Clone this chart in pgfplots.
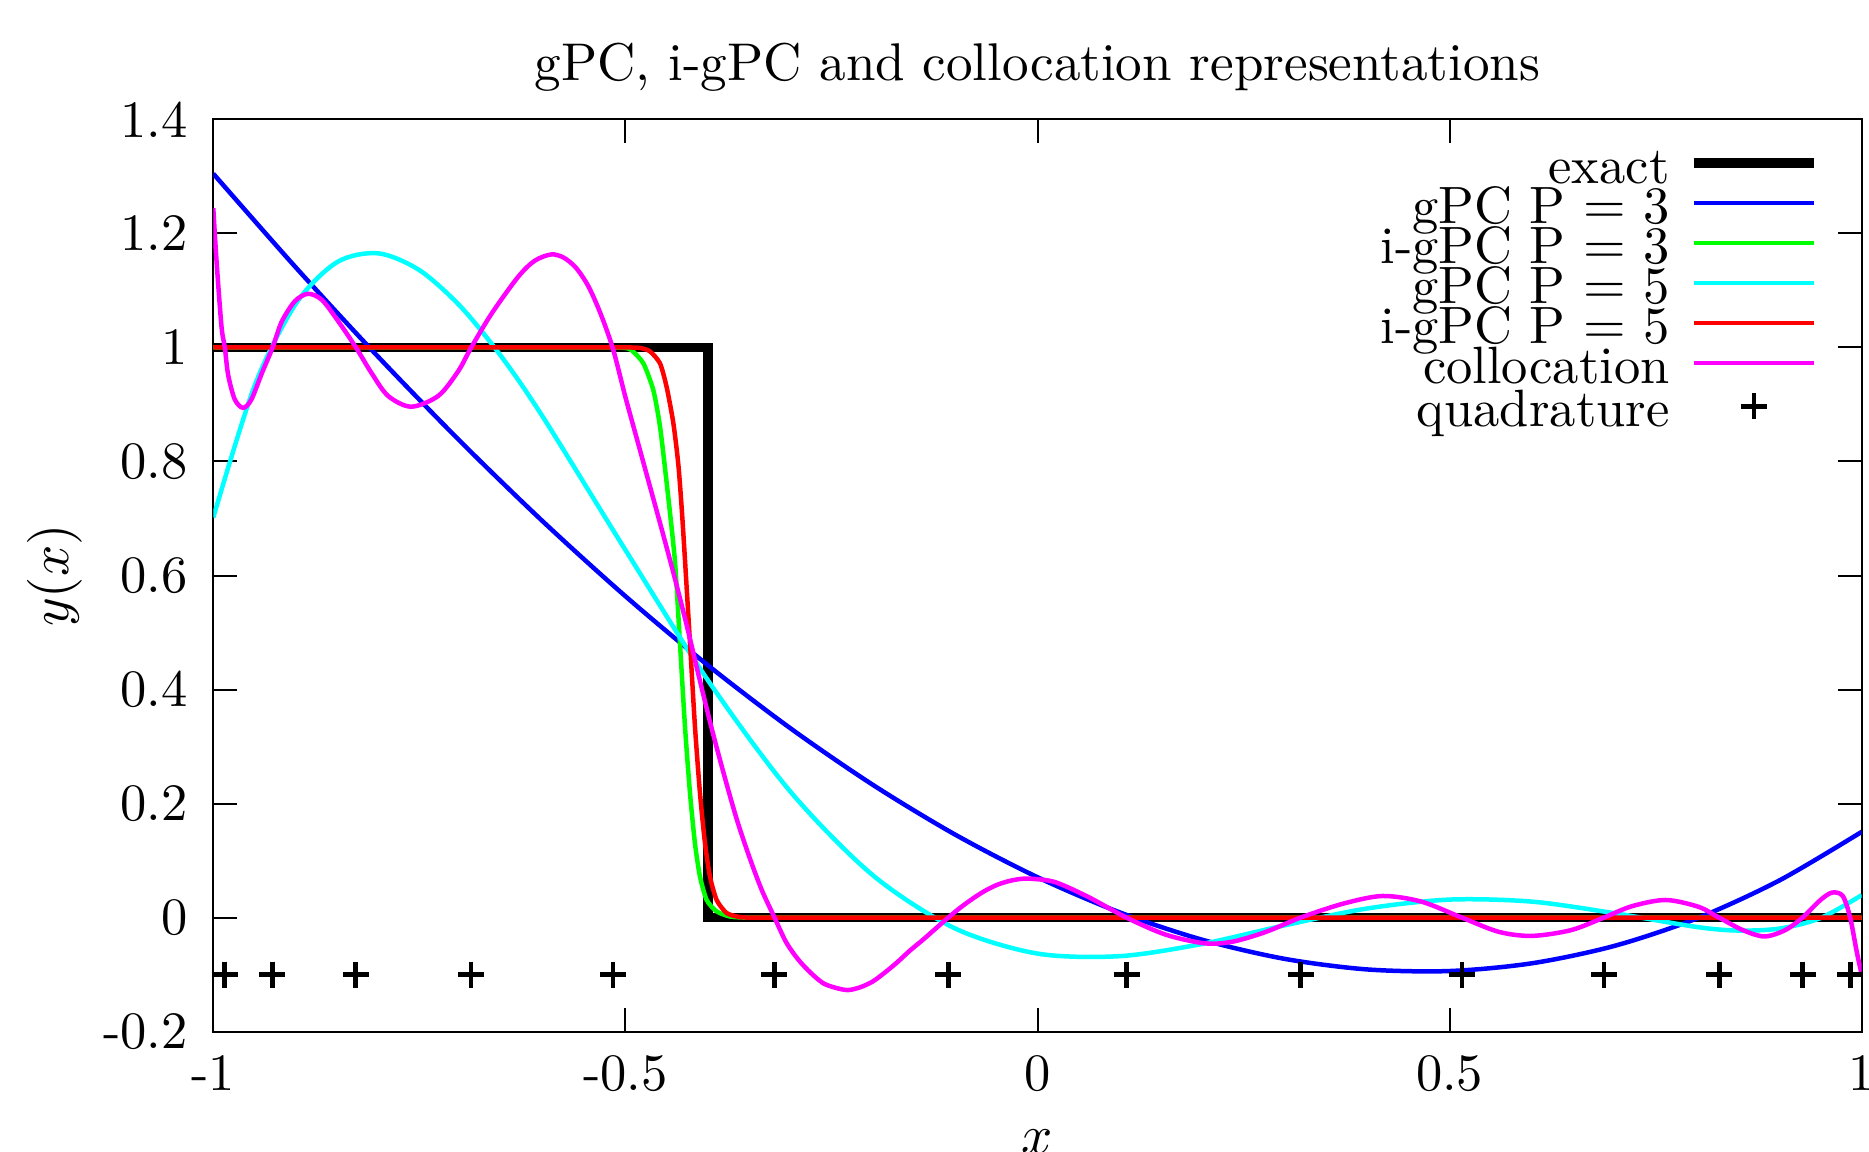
\documentclass[border=0pt]{standalone}
\usepackage{pgfplots}
\pgfplotsset{compat=1.18}
\definecolor{cblue}{rgb}{0,0,1}
\definecolor{cgreen}{rgb}{0,1,0}
\definecolor{ccyan}{rgb}{0,1,1}
\definecolor{cred}{rgb}{1,0,0}
\definecolor{cmag}{rgb}{1,0,1}
\newcommand\fs{\fontsize{10.5}{12}\selectfont}
\begin{document}
\begin{tikzpicture}
\begin{axis}[
  scale only axis, width=329.68pt, height=182.48pt,
  xmin=-1, xmax=1, ymin=-0.2, ymax=1.4,
  xtick={-1,-0.5,0,0.5,1}, xticklabels={-1,-0.5,0,0.5,1},
  ytick={-0.2,0,0.2,0.4,0.6,0.8,1,1.2,1.4},
  yticklabels={-0.2,0,0.2,0.4,0.6,0.8,1,1.2,1.4},
  tick align=inside, major tick length=4.7pt,
  tick style={black, line width=0.4pt},
  axis line style={line width=0.4pt},
  ticklabel style={font=\fs},
  yticklabel style={xshift=-1.6pt},
  xticklabel style={yshift=-1.2pt},
  title={gPC, i-gPC and collocation representations},
  title style={at={(axis description cs:0.5,1.0098)}, anchor=base, yshift=0pt, font=\fontsize{10.62}{12}\selectfont},
  xlabel={$x$}, ylabel={$y(x)$},
  xlabel style={at={(axis description cs:0.5,-0.1332)}, anchor=base, font=\fs},
  ylabel style={at={(axis description cs:-0.0962,0.5)}, anchor=center, font=\fs},
  legend style={at={(axis description cs:1,1)}, anchor=north east, xshift=-8.64pt, yshift=-6.8pt,
    draw=none, fill=none, inner sep=0pt, outer sep=0pt, row sep=0pt, column sep=3.9pt, font=\fs,
    nodes={inner sep=0pt, text height=6pt, text depth=2pt}},
  legend cell align=right, legend plot pos=right,
  legend image code/.code={\draw[mark repeat=2,mark phase=2,#1] plot coordinates {(0pt,2.1pt) (12pt,2.1pt) (24pt,2.1pt)};},
]
\coordinate (SW) at (rel axis cs:0,0);
\addplot[black, line width=1.9pt, line join=miter] coordinates {(-1,1) (-0.4,1) (-0.4,0) (1,0)};
\addlegendentry{exact}
\addplot[cblue, line width=0.9pt, smooth] coordinates {
(-1,1.3046) (-0.9,1.1404) (-0.8,0.9836) (-0.7,0.8348) (-0.6,0.6946) (-0.5,0.5637) (-0.4,0.4427) (-0.3,0.3323) (-0.2,0.2331) (-0.1,0.1457) (0,0.0709) (0.1,0.0091) (0.2,-0.0388) (0.3,-0.0723) (0.4,-0.0908) (0.5,-0.0936) (0.6,-0.0800) (0.7,-0.0495) (0.8,-0.0013) (0.9,0.0652) (1,0.1505)};
\addlegendentry{gPC P $=$ 3}
\addplot[cgreen, line width=0.9pt, smooth, tension=0.4] coordinates {
(-1,1) (-0.7,1) (-0.56,1) (-0.52,1) (-0.50,0.999) (-0.4924,0.995) (-0.4782,0.972) (-0.4661,0.925) (-0.458,0.861) (-0.4499,0.762) (-0.440,0.627) (-0.4338,0.481) (-0.4277,0.335) (-0.4216,0.218) (-0.4156,0.130) (-0.4095,0.072) (-0.4014,0.031) (-0.3893,0.011) (-0.3731,0.002) (-0.353,0) (-0.33,0) (-0.2,0) (1,0)};
\addlegendentry{i-gPC P $=$ 3}
\addplot[ccyan, line width=0.9pt, smooth] coordinates {
(-1,0.7017) (-0.95,0.9322) (-0.9,1.0763) (-0.85,1.1494) (-0.8,1.1650) (-0.75,1.1355) (-0.7,1.0717) (-0.65,0.9830) (-0.6,0.8778) (-0.5,0.6448) (-0.4,0.4165) (-0.3,0.2213) (-0.2,0.0746) (-0.1,-0.0189) (0,-0.0630) (0.1,-0.0675) (0.2,-0.0460) (0.3,-0.0134) (0.4,0.0161) (0.5,0.0317) (0.6,0.0281) (0.7,0.0078) (0.8,-0.0164) (0.85,-0.0226) (0.9,-0.0192) (0.95,-0.0007) (1,0.0395)};
\addlegendentry{gPC P $=$ 5}
\addplot[cred, line width=0.9pt, smooth, tension=0.4] coordinates {
(-1,1) (-0.7,1) (-0.54,1) (-0.50,1) (-0.482,0.999) (-0.4702,0.993) (-0.458,0.972) (-0.4499,0.930) (-0.4418,0.867) (-0.4358,0.795) (-0.4317,0.718) (-0.4277,0.627) (-0.4216,0.481) (-0.4156,0.335) (-0.4095,0.218) (-0.4034,0.130) (-0.3974,0.072) (-0.3893,0.031) (-0.3771,0.008) (-0.361,0.001) (-0.345,0) (-0.32,0) (-0.2,0) (1,0)};
\addlegendentry{i-gPC P $=$ 5}
\addplot[cmag, line width=0.9pt, smooth, tension=0.5] coordinates {
(-1.000,1.244) (-0.996,1.150) (-0.990,1.036) (-0.986,1.000) (-0.982,0.952) (-0.974,0.909) (-0.964,0.894) (-0.954,0.908) (-0.941,0.955) (-0.928,1.000) (-0.917,1.045) (-0.901,1.081) (-0.885,1.094) (-0.868,1.083) (-0.848,1.045) (-0.827,1.000) (-0.808,0.955) (-0.788,0.915) (-0.760,0.896) (-0.727,0.915) (-0.703,0.958) (-0.687,1.000) (-0.662,1.060) (-0.630,1.124) (-0.610,1.152) (-0.590,1.163) (-0.575,1.1575) (-0.560,1.1397) (-0.545,1.1074) (-0.530,1.0587) (-0.515,0.997) (-0.500,0.913) (-0.485,0.834) (-0.470,0.755) (-0.455,0.676) (-0.440,0.595) (-0.425,0.509) (-0.410,0.418) (-0.395,0.330) (-0.380,0.249) (-0.365,0.173) (-0.350,0.108) (-0.335,0.050) (-0.320,0.003) (-0.305,-0.043) (-0.290,-0.074) (-0.275,-0.097) (-0.260,-0.115) (-0.245,-0.123) (-0.230,-0.127) (-0.215,-0.122) (-0.200,-0.112) (-0.185,-0.096) (-0.170,-0.078) (-0.155,-0.058) (-0.140,-0.040) (-0.125,-0.021) (-0.110,-0.002) (-0.095,0.016) (-0.080,0.032) (-0.065,0.046) (-0.050,0.057) (-0.035,0.064) (-0.020,0.068) (-0.005,0.068) (0.022,0.062) (0.062,0.036) (0.108,0.000) (0.156,-0.030) (0.203,-0.045) (0.237,-0.042) (0.277,-0.025) (0.319,0.000) (0.372,0.025) (0.419,0.038) (0.466,0.028) (0.515,0.000) (0.560,-0.025) (0.600,-0.032) (0.647,-0.022) (0.687,0.000) (0.721,0.020) (0.762,0.031) (0.802,0.019) (0.827,0.000) (0.856,-0.022) (0.882,-0.033) (0.907,-0.022) (0.928,0.000) (0.950,0.031) (0.964,0.044) (0.977,0.038) (0.986,0.000) (0.994,-0.06) (1.000,-0.10)};
\addlegendentry{collocation}
\addplot[only marks, mark=+, mark size=2.6pt, mark options={black, line width=0.9pt}] coordinates {
(-0.9862838,-0.1) (-0.9284349,-0.1) (-0.8272013,-0.1) (-0.6872929,-0.1) (-0.5152486,-0.1) (-0.3191124,-0.1) (-0.1080549,-0.1) (0.1080549,-0.1) (0.3191124,-0.1) (0.5152486,-0.1) (0.6872929,-0.1) (0.8272013,-0.1) (0.9284349,-0.1) (0.9862838,-0.1)};
\addlegendentry{quadrature}
\end{axis}
\pgfresetboundingbox
\path[use as bounding box] ([shift={(-42.66pt,-23.86pt)}]SW) rectangle ++(373.8pt,230.2pt);
\end{tikzpicture}
\end{document}
